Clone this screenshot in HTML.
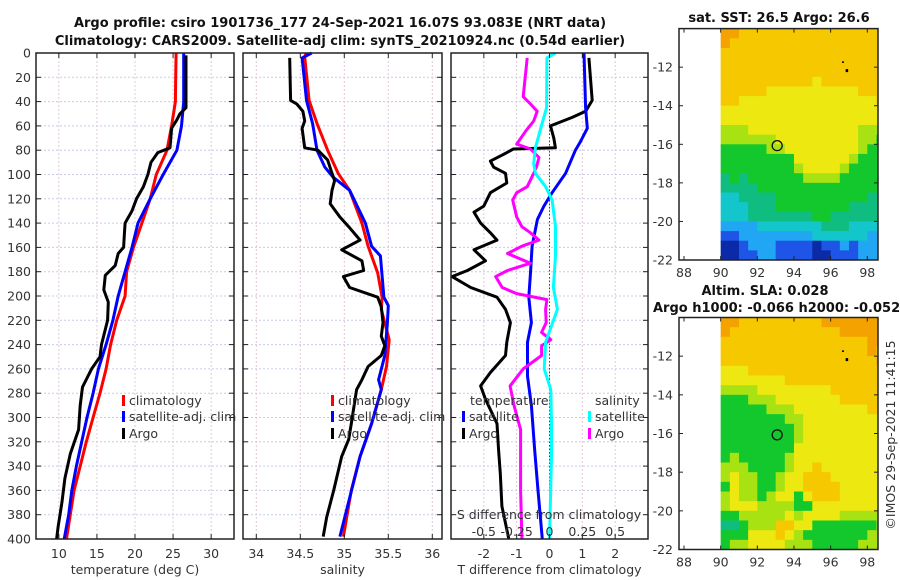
<!DOCTYPE html>
<html><head><meta charset="utf-8">
<style>
html,body{margin:0;padding:0;background:#fff;}
svg{display:block;font-family:"DejaVu Sans","Liberation Sans",sans-serif;}
.t{font-size:12.5px;fill:#333;}
.b{font-size:13px;font-weight:bold;fill:#111;}
</style></head>
<body>
<svg id="chart" width="900" height="580" viewBox="0 0 900 580">
<text class="b" x="340" y="27" text-anchor="middle">Argo profile: csiro 1901736_177 24-Sep-2021 16.07S 93.083E (NRT data)</text>
<text class="b" x="340" y="45" text-anchor="middle">Climatology: CARS2009. Satellite-adj clim: synTS_20210924.nc (0.54d earlier)</text>
<text class="b" x="779" y="22" text-anchor="middle">sat. SST: 26.5 Argo: 26.6</text>
<text class="b" x="765" y="295" text-anchor="middle">Altim. SLA: 0.028</text>
<text class="b" x="653" y="312">Argo h1000: -0.066 h2000: -0.052</text>
<text class="t" x="0" y="0" transform="translate(895,435) rotate(-90)" text-anchor="middle">©IMOS 29-Sep-2021 11:41:15</text>
<g id="layer"></g>
</svg>
<script>
// ---------- data ----------
const depths = [0,20,40,60,80,100,120,140,160,180,200,220,240,260,280,300,320,340,360,380,400];
const tempClim = [25.4,25.35,25.3,24.8,24.2,22.8,22.0,20.9,19.8,18.9,18.7,17.6,16.8,16.2,15.4,14.5,13.6,12.8,12.0,11.5,11.0];
const tempSat  = [26.4,26.4,26.4,26.1,25.5,23.7,22.0,20.4,19.6,18.7,17.8,17.1,16.2,15.2,14.5,13.7,13.0,12.3,11.7,11.3,10.7];
const argoTDepth = [2,45,50,55,62,78,82,90,100,110,120,130,140,150,160,165,175,183,195,205,220,240,250,260,275,290,310,330,350,370,390,400];
const argoTemp   = [26.7,26.7,25.9,25.5,24.8,24.6,23.0,22.1,21.7,21.1,20.2,19.6,18.7,18.6,18.5,17.8,17.4,16.1,15.9,16.5,16.4,15.6,15.4,14.3,13.1,12.8,12.6,11.5,10.8,10.4,9.9,9.7];
const salClimDepth = [0,3,39,58,80,99,113,140,159,181,201,211,236,258,277,305,332,360,398];
const salClim = [34.57,34.55,34.60,34.69,34.81,34.93,35.06,35.20,35.27,35.38,35.43,35.42,35.51,35.48,35.42,35.31,35.18,35.08,34.99];
const salSatDepth = [0,4,39,58,80,94,102,113,140,159,167,201,208,222,249,269,277,305,332,398];
const salSat = [34.63,34.52,34.57,34.64,34.69,34.78,34.87,35.06,35.24,35.31,35.41,35.45,35.50,35.49,35.46,35.39,35.42,35.31,35.18,34.95];
const argoSDepth = [4,39,42,48,56,62,78,80,88,99,105,113,124,135,143,154,162,171,179,184,193,201,209,222,233,241,249,258,269,277,305,318,332,360,382,398];
const argoSal = [34.38,34.39,34.46,34.53,34.55,34.52,34.55,34.70,34.81,34.86,34.89,34.86,34.84,34.95,35.05,35.18,34.97,35.20,35.22,34.99,35.06,35.38,35.42,35.44,35.42,35.46,35.42,35.27,35.20,35.14,35.08,35.05,34.97,34.88,34.80,34.76];
const dTArgoDepth = [4,39,48,53,60,70,78,79,84,89,94,99,107,115,126,131,140,148,154,162,171,179,184,193,201,211,222,238,249,263,274,285,305,327,346,373,400];
const dTArgo = [1.2,1.3,1.1,0.69,0.03,0.13,0.18,-1.1,-1.44,-1.8,-1.7,-1.34,-1.3,-1.8,-2.0,-2.3,-2.1,-1.8,-1.6,-2.3,-1.95,-2.5,-2.97,-2.4,-1.6,-1.34,-1.19,-1.3,-1.34,-1.8,-2.1,-1.95,-1.6,-1.55,-1.5,-1.45,-1.24];
const dTSatDepth = [0,45,62,73,80,99,115,126,137,159,181,201,222,238,266,290,327,360,400];
const dTSat = [1.05,1.1,1.15,0.94,0.79,0.49,0.08,-0.17,-0.37,-0.53,-0.58,-0.63,-0.55,-0.67,-0.67,-0.55,-0.45,-0.35,-0.22];
const dSArgoDepth = [4,36,42,48,56,64,75,79,86,94,99,110,115,121,135,143,148,154,159,165,173,179,184,193,198,203,211,222,230,236,241,249,260,274,290,310,332,360,400];
const dSArgo = [-0.17,-0.2,-0.145,-0.094,-0.12,-0.18,-0.25,-0.145,-0.08,-0.1,-0.12,-0.17,-0.25,-0.28,-0.25,-0.21,-0.145,-0.08,-0.21,-0.32,-0.145,-0.32,-0.41,-0.36,-0.25,-0.02,-0.03,-0.025,-0.06,0.01,-0.06,-0.06,-0.2,-0.3,-0.27,-0.22,-0.22,-0.22,-0.21];
const dSSatDepth = [0,4,45,58,78,91,99,110,121,143,167,193,211,238,260,277,305,332,400];
const dSSat = [0.046,-0.02,-0.022,-0.056,-0.107,-0.12,-0.107,-0.03,0.02,0.046,0.046,0.03,0.06,-0.03,-0.04,0.01,0.015,0.015,0.0];
const depthTicks = [0,20,40,60,80,100,120,140,160,180,200,220,240,260,280,300,320,340,360,380,400];
const tempTicks = [10,15,20,25,30];
const salTicks = [34,34.5,35,35.5,36];
const salTickLabels = ["34","34.5","35","35.5","36"];
const dTTicks = [-2,-1,0,1,2];
const dSTicks = [-0.5,-0.25,0,0.25,0.5];
const dSTickLabels = ["-0.5","-0.25","0","0.25","0.5"];
const lonTicks = [88,90,92,94,96,98];
const latTicks = [-12,-14,-16,-18,-20,-22];
const sstGrid = [
"998888888888888888","988888888888888888","888888888888888888","888888888888888888",
"888888888888888888","888888888878888888","888887777777777888","887777777777777778",
"777777777777777777","777777777777777777","666777777777777666","666666777777777665",
"555556677777777655","555555557777776555","555555556777765555","454555555666655555",
"444455555555555555","334444555555555544","333444555555554444","333444444455444444",
"222233333334443333","112222222233333322","001222111101121222","001122111100111222"];
const slaGrid = [
"998888888889999999","988888888888899999","888888888888888899","888888888888888898",
"888888888888888889","777888888888888888","777777788888888888","666677777777888888",
"555666777777788888","555556667777777788","555555566777777777","555555556777777777",
"555555556777777777","555555557777777777","565555567777777777","666555567787777777",
"676655677888777777","576655677888877777","676656775788877777","677766665577777777",
"556666676777766666","445666887755555556","555777876555555566","566777766655555666"];
const argoLon = 93.083, argoLat = -16.07;
// ---------- drawing ----------
const NS = "http://www.w3.org/2000/svg";
const layer = document.getElementById('layer');
function mk(tag, attrs, parent){ const e=document.createElementNS(NS,tag); for(const k in attrs) e.setAttribute(k,attrs[k]); (parent||layer).appendChild(e); return e; }
const Y0=53, Y1=539;
const yD = d => Y0 + d*(Y1-Y0)/400;
function panel(name, x0, x1, vmin, vmax){
  const xs = v => x0 + (v-vmin)*(x1-x0)/(vmax-vmin);
  const g = mk('g',{});
  
  
  return {x0,x1,xs,g};
}
function grid(p, xt){
  xt.forEach(v=>{ const l=mk('line',{x1:p.xs(v),x2:p.xs(v),y1:Y0,y2:Y1,stroke:'#e2c8d8','stroke-width':1,'stroke-dasharray':'2,2'},p.g);
      });
  depthTicks.forEach(d=>{ const l=mk('line',{x1:p.x0,x2:p.x1,y1:yD(d),y2:yD(d),stroke:'#c8cce8','stroke-width':1,'stroke-dasharray':'2,2'},p.g);
      });
}
function frame(p, xt, labels, xlabel, showY){
  const r=mk('rect',{x:p.x0,y:Y0,width:p.x1-p.x0,height:Y1-Y0,fill:'none',stroke:'#222','stroke-width':1.5},p.g);
   
  depthTicks.forEach(d=>{ const y=yD(d);
    mk('line',{x1:p.x0,x2:p.x0+5,y1:y,y2:y,stroke:'#222'},p.g); mk('line',{x1:p.x1-5,x2:p.x1,y1:y,y2:y,stroke:'#222'},p.g);
    if(showY){ const t=mk('text',{x:p.x0-5,y:y+4.5,'text-anchor':'end',class:'t'},p.g); t.textContent=d;
        } });
  xt.forEach((v,i)=>{ const x=p.xs(v);
    mk('line',{x1:x,x2:x,y1:Y0,y2:Y0+5,stroke:'#222'},p.g); mk('line',{x1:x,x2:x,y1:Y1-5,y2:Y1,stroke:'#222'},p.g);
    const t=mk('text',{x:x,y:558,'text-anchor':'middle',class:'t'},p.g); t.textContent=labels[i];
      });
  const t=mk('text',{x:(p.x0+p.x1)/2,y:574,'text-anchor':'middle',class:'t'},p.g); t.textContent=xlabel;
   
}
function line(p, vals, ds, color, name, xs){
  const f = xs||p.xs;
  const pts = vals.map((v,i)=>f(v).toFixed(1)+','+yD(ds[i]).toFixed(1)).join(' ');
  const l=mk('polyline',{points:pts,fill:'none',stroke:color,'stroke-width':3,'stroke-linejoin':'round'},p.g);
  
  
}
function legEntry(p, x, y, color, label, name){
  if(color){ mk('rect',{x:x,y:y-10,width:3,height:11,fill:color},p.g); }
  const t=mk('text',{x:x+7,y:y,class:'t'},p.g); t.textContent=label;
  
  
}
// panel 1 temperature
const p1 = panel('temperature-panel',36,234,7,33);
grid(p1,tempTicks);
line(p1,tempClim,depths,'#ff0000','climatology-temperature-line');
line(p1,tempSat,depths,'#0000ff','satellite-temperature-line');
line(p1,argoTemp,argoTDepth,'#000000','argo-temperature-line');
frame(p1,tempTicks,tempTicks.map(String),'temperature (deg C)',true);
legEntry(p1,122,405,'#ff0000','climatology','legend-climatology');
legEntry(p1,122,421,'#0000ff','satellite-adj. clim','legend-satellite-adj');
legEntry(p1,122,438,'#000000','Argo','legend-argo');
// panel 2 salinity
const p2 = panel('salinity-panel',243,442,34+(243-256.3)/88,34+(442-256.3)/88);
grid(p2,salTicks);
line(p2,salClim,salClimDepth,'#ff0000','climatology-salinity-line');
line(p2,salSat,salSatDepth,'#0000ff','satellite-salinity-line');
line(p2,argoSal,argoSDepth,'#000000','argo-salinity-line');
frame(p2,salTicks,salTickLabels,'salinity',false);
legEntry(p2,331,405,'#ff0000','climatology','legend-climatology-2');
legEntry(p2,331,421,'#0000ff','satellite-adj. clim','legend-satellite-adj-2');
legEntry(p2,331,438,'#000000','Argo','legend-argo-2');
// panel 3 differences
const p3 = panel('difference-panel',451,648,-3,3);
grid(p3,dTTicks);
const zl=mk('line',{x1:p3.xs(0),x2:p3.xs(0),y1:Y0,y2:Y1,stroke:'#444','stroke-width':1,'stroke-dasharray':'1.5,2'},p3.g);
 
const sx = s => p3.xs(s*4);
line(p3,dTArgo,dTArgoDepth,'#000000','argo-temperature-difference-line');
line(p3,dTSat,dTSatDepth,'#0000ff','satellite-temperature-difference-line');
line(p3,dSArgo,dSArgoDepth,'#ff00ff','argo-salinity-difference-line',sx);
line(p3,dSSat,dSSatDepth,'#00ffff','satellite-salinity-difference-line',sx);
frame(p3,dTTicks,dTTicks.map(String),'T difference from climatology',false);
legEntry(p3,463,405,null,'temperature','legend-temperature-header');
legEntry(p3,462,421,'#0000ff','satellite','legend-temperature-satellite');
legEntry(p3,462,438,'#000000','Argo','legend-temperature-argo');
legEntry(p3,588,405,null,'salinity','legend-salinity-header');
legEntry(p3,588,421,'#00ffff','satellite','legend-salinity-satellite');
legEntry(p3,588,438,'#ff00ff','Argo','legend-salinity-argo');
{ const t=mk('text',{x:549,y:519,'text-anchor':'middle',class:'t'},p3.g); t.textContent='S difference from climatology';
   
  dSTicks.forEach((s,i)=>{ const l=mk('text',{x:sx(s),y:536,'text-anchor':'middle',class:'t'},p3.g); l.textContent=dSTickLabels[i];
      }); }
// maps
const cmap = ['#0a2aa8','#1f55e6','#20a6f2','#12c6cc','#10bd80','#12c82c','#a8e212','#ece810','#f6c800','#f4a200'];
function map(name, top, bot, gridData){
  const mx0=679, mx1=878;
  const xl = lon => 684 + (lon-88)*18.33;
  const yl = lat => top + (-10-lat)*(bot-top)/12;
  const g=mk('g',{});
  
  
  gridData.forEach((row,r)=>{ for(let c=0;c<row.length;c++){
    const lon=90+c*0.5, lat=-10-r*0.5;
    const x=xl(lon), w=Math.min(xl(lon+0.5),mx1)-x;
    if(w<=0) continue;
    const cell=mk('rect',{x:x,y:yl(lat),width:w+0.4,height:yl(lat-0.5)-yl(lat)+0.4,fill:cmap[+row[c]]},g);
    
    
  }});
  const fr=mk('rect',{x:mx0,y:top,width:mx1-mx0,height:bot-top,fill:'none',stroke:'#222','stroke-width':1.5},g);
   
  latTicks.forEach(lat=>{ const y=yl(lat);
    mk('line',{x1:mx0,x2:mx0+4,y1:y,y2:y,stroke:'#222'},g); mk('line',{x1:mx1-4,x2:mx1,y1:y,y2:y,stroke:'#222'},g);
    const t=mk('text',{x:673,y:y+4.5,'text-anchor':'end',class:'t'},g); t.textContent=lat;
      });
  lonTicks.forEach(lon=>{ const x=xl(lon);
    mk('line',{x1:x,x2:x,y1:top,y2:top+4,stroke:'#222'},g); mk('line',{x1:x,x2:x,y1:bot-4,y2:bot,stroke:'#222'},g);
    const t=mk('text',{x:x,y:bot+17,'text-anchor':'middle',class:'t'},g); t.textContent=lon;
      });
  mk('rect',{x:xl(96.62),y:yl(-11.7),width:2,height:1.5,fill:'#000'},g);
  mk('rect',{x:xl(96.82),y:yl(-12.1),width:2.5,height:3,fill:'#000'},g);
  const c=mk('circle',{cx:xl(argoLon),cy:yl(argoLat),r:5,fill:'none',stroke:'#111','stroke-width':1.3},g);
   
}
map('sst-map',28.6,260,sstGrid);
map('sla-map',317.5,549.5,slaGrid);
</script>
</body></html>
